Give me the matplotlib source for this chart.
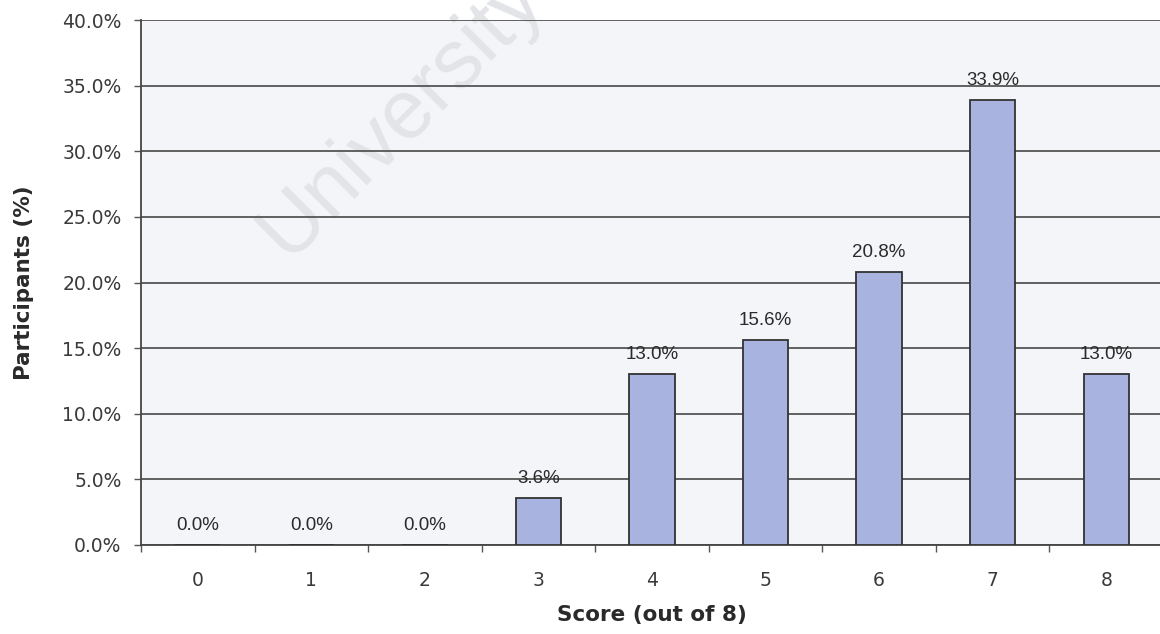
import matplotlib.pyplot as plt
from matplotlib.ticker import PercentFormatter, MultipleLocator

# Score distribution (share of participants per score)
scores = ['0', '1', '2', '3', '4', '5', '6', '7', '8']
participants_pct = [0.0, 0.0, 0.0, 3.6, 13.0, 15.6, 20.8, 33.9, 13.0]

plt.rcParams['font.family'] = ['DejaVu Sans']

fig = plt.figure(figsize=(11.6, 6.34), dpi=100)
ax = fig.add_axes([141 / 1160, 89 / 634, 1022 / 1160, 525 / 634])
ax.set_facecolor('#f4f5f9')

# faint watermark behind the plot
ax.text(0.255, 0.82, 'University', transform=ax.transAxes, rotation=45,
        fontsize=60, family='Liberation Sans', color='#e3e4e7',
        ha='center', va='center', zorder=0)

x = list(range(len(scores)))
bars = ax.bar(x, participants_pct, width=0.4, color='#a9b3df',
              edgecolor='#333333', linewidth=1.3, zorder=3)

# value labels above each bar
for xi, val in zip(x, participants_pct):
    ax.annotate(f'{val:.1f}%', (xi, val), xytext=(0, 8), textcoords='offset points',
                ha='center', va='bottom', fontsize=13.5, family='Liberation Sans',
                color='#2a2a2a', zorder=4)

ax.set_xlim(-0.5, len(scores) - 0.5)
ax.set_ylim(0, 40)
ax.yaxis.set_major_locator(MultipleLocator(5))
ax.yaxis.set_major_formatter(PercentFormatter(decimals=1))
ax.grid(axis='y', color='#555555', linewidth=1.3, zorder=1)
ax.set_axisbelow(True)

ax.set_xticks(x)
ax.set_xticklabels(scores)
ax.set_xticks([i + 0.5 for i in range(-1, len(scores))], minor=True)
ax.tick_params(axis='x', which='major', length=0, pad=19, labelsize=13.5, labelcolor='#3a3a3a')
ax.tick_params(axis='x', which='minor', length=5, width=1, color='#555555')
ax.tick_params(axis='y', length=5, width=1, color='#555555', pad=9,
               labelsize=13.5, labelcolor='#3a3a3a')

for side in ('top', 'right'):
    ax.spines[side].set_visible(False)
for side in ('left', 'bottom'):
    ax.spines[side].set_color('#444444')
    ax.spines[side].set_linewidth(1.3)

ax.set_xlabel('Score (out of 8)', fontsize=15.5, fontweight='bold', color='#2a2a2a')
ax.set_ylabel('Participants (%)', fontsize=15.5, fontweight='bold', color='#2a2a2a')
ax.xaxis.set_label_coords(0.5, -(605 - 545) / 525)
ax.yaxis.set_label_coords(-(141 - 34) / 1022, 0.5)

fig.savefig('out.png', dpi=100)
